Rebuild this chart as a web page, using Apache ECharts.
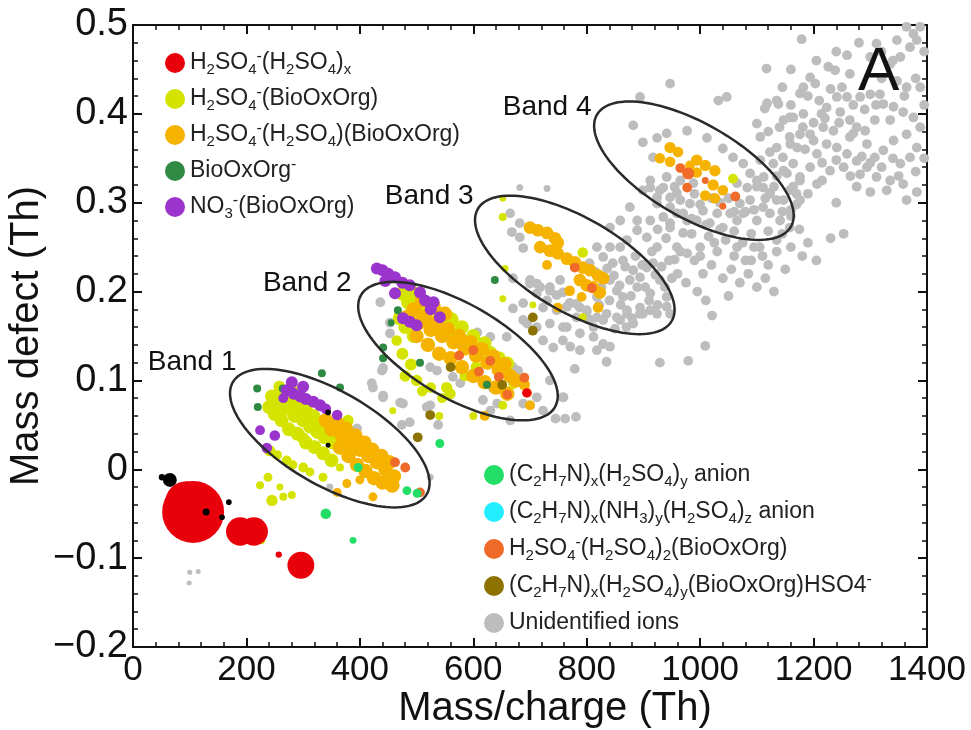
<!DOCTYPE html>
<html><head><meta charset="utf-8">
<script src="https://cdn.jsdelivr.net/npm/echarts@6/dist/echarts.min.js"></script>
<style>html,body{margin:0;padding:0;background:#fff}#c{width:971px;height:730px}</style>
</head><body><div id="c"></div>
<script>
// ---------- data: [m/z (Th), mass defect (Th), relative signal] ----------
const unidentified = [
[100,-0.116,1.6],[115,-0.115,1.6],[99,-0.128,1.6],
[441,0.114],[421,0.097],[441,0.083],[471,0.075],[488,0.053],[474,0.050],[524,0.072],[538,0.050],[395,0.046],[524,-0.009,3],[347,-0.020,3],
[436,0.188],[453,0.165],[453,0.153],[439,0.111],[423,0.092],[441,0.081],[476,0.074],[518,0.070],[524,0.115],[536,0.111],[564,0.104],[577,0.097],[607,0.154],[630,0.149],[659,0.149],[670,0.115],[679,0.111],[670,0.097],[635,0.091],[617,0.078],[642,0.074],[688,0.074],[712,0.081],[735,0.100],[758,0.081],[723,0.066],[630,0.066],[665,0.055],[700,0.072],[745,0.057],
[670,0.215],[700,0.209],[712,0.198],[735,0.205],[758,0.199],[688,0.187],[723,0.182],[747,0.179],[770,0.187],[735,0.164],[758,0.160],[782,0.171],[712,0.160],[688,0.168],[758,0.145],[741,0.137],[723,0.145],
[665,0.288],[682,0.277],[668,0.267],[688,0.249],[700,0.213],[718,0.205],[735,0.201],[753,0.213],[730,0.190],[770,0.187],[788,0.182],[800,0.177],[818,0.194],[841,0.213],[853,0.201],[864,0.194],[876,0.213],[889,0.205],[846,0.232],[864,0.235],[882,0.224],[894,0.216],[906,0.227],[829,0.239],[818,0.250],[841,0.250],[859,0.250],[871,0.258],[889,0.269],[906,0.261],[924,0.250],[917,0.232],[929,0.213],[941,0.194],[912,0.198],[894,0.182],[871,0.175],[853,0.171],[829,0.168],[806,0.168],[682,0.261],[712,0.209],[747,0.196],[899,0.175],[924,0.175],[947,0.175],[670,0.181],[695,0.164],
[805,0.232],[815,0.222],[826,0.205],[836,0.226],[848,0.218],[858,0.207],[868,0.228],[878,0.195],[886,0.240],[898,0.230],[903,0.205],[915,0.245],[921,0.219],[932,0.228],[938,0.205],[950,0.215],[955,0.236],[860,0.185],[880,0.170],[910,0.190],[925,0.185],[840,0.190],[822,0.185],[812,0.160],[850,0.158],[870,0.160],
[912,0.317],[929,0.314],[947,0.306],[965,0.303],[924,0.299],[959,0.288],[977,0.280],[947,0.272],[970,0.266],[959,0.250],[977,0.243],[935,0.284],[682,0.317,3],[730,0.316,3],
[882,0.387],[899,0.368],[924,0.373],[917,0.351],[941,0.378],[977,0.381],[1012,0.373],[1040,0.361],[1058,0.351],[1076,0.344],[1088,0.333],[1100,0.325],[1111,0.317],[1123,0.311],[1135,0.303],[1111,0.295],[1088,0.303],[1070,0.299],[1053,0.288],[1030,0.288],[1005,0.291],[982,0.299],[959,0.311],[935,0.317],[912,0.325],[899,0.314],[924,0.306],[947,0.295],[970,0.288],[994,0.280],[1017,0.277],[1040,0.272],[1065,0.280],[1076,0.288],[1100,0.280],[1123,0.288],[1141,0.280],[1158,0.272],[941,0.329],[965,0.325],[988,0.322],[1065,0.322],[1083,0.317],[876,0.295],[859,0.280],[841,0.272],[889,0.280],[912,0.280],[947,0.277],
[955,0.318],[990,0.310],[1000,0.298],[1020,0.305],[1035,0.300],[1050,0.305],[1060,0.290],[1080,0.290],[1095,0.292],[1115,0.305],[1130,0.318],[1145,0.290],[1160,0.285],[1170,0.298],[1120,0.268],[1135,0.258],[1090,0.265],[1060,0.268],[1035,0.270],[1010,0.275],[985,0.282],[1000,0.240],[1025,0.255],[1065,0.250],[1095,0.250],[1110,0.240],[1080,0.235],[940,0.260],[925,0.270],
[947,0.434],[894,0.419],[1032,0.415],[1047,0.419],[1118,0.412],[1135,0.415],[1158,0.396],[1176,0.423],[1181,0.385],[1158,0.374],[1171,0.362],[1146,0.351],[1164,0.344],[1153,0.333],[1176,0.325],[1158,0.314],[1176,0.303],[1100,0.389],
[1179,0.484],[1117,0.451],[1138,0.411],[1114,0.406],[1106,0.374],[1123,0.357],[1147,0.393],[1164,0.396],[1182,0.400],[1194,0.441],[1182,0.430],[1203,0.434],[1226,0.453],[1238,0.449],[1259,0.466],[1264,0.445],[1259,0.419],[1241,0.419],[1223,0.407],[1214,0.400],[1247,0.402],[1264,0.393],[1276,0.385],[1291,0.381],[1308,0.393],[1323,0.411],[1341,0.408],[1358,0.402],[1376,0.396],[1388,0.385],[1364,0.377],[1341,0.370],[1323,0.359],[1308,0.351],[1294,0.340],[1276,0.347],[1259,0.355],[1241,0.362],[1223,0.366],[1206,0.355],[1194,0.340],[1176,0.329],[1164,0.318],[1147,0.336],[1129,0.344],[1112,0.329],[1100,0.318],[1123,0.310],[1147,0.303],[1170,0.310],[1206,0.321],[1229,0.336],[1253,0.340],[1282,0.332],[1311,0.329],[1335,0.325],[1358,0.321],[1329,0.314],[1364,0.303],[1382,0.312],[1353,0.344],[1370,0.351],[1382,0.362],[1388,0.430],[1364,0.430],[1347,0.437],[1335,0.456],[1353,0.464],[1370,0.475],[1382,0.483],[1376,0.490],[1364,0.498],[1388,0.498],[1347,0.483],[1311,0.479],[1300,0.464],[1282,0.419],[1300,0.422],[1317,0.422],[1335,0.393],[1294,0.366],[1264,0.374],[1235,0.381],[1217,0.385],[1194,0.377],[1176,0.377],[1159,0.366],[1135,0.362],[1106,0.348],[1253,0.265],[1276,0.318],
[1190,0.420],[1210,0.415],[1230,0.428],[1250,0.430],[1270,0.410],[1290,0.405],[1310,0.410],[1200,0.390],[1220,0.395],[1245,0.390],[1270,0.378],[1285,0.352],[1300,0.345],[1320,0.340],[1340,0.350],[1200,0.370],[1185,0.360],[1215,0.345],[1240,0.348],[1265,0.330],[1215,0.325],[1190,0.310],[1160,0.292],[1135,0.330],[1120,0.380],[1140,0.385],[1160,0.410],[1145,0.430],[1160,0.450],[1205,0.460],[1240,0.470],[1280,0.480],[1320,0.470],[1340,0.460],[1320,0.440],[1360,0.420],[1380,0.440],[1395,0.410],[1395,0.470],[1395,0.350],[1380,0.335],[1350,0.330],[1300,0.312],[1240,0.300],
[985,0.265],[1000,0.250],[1015,0.262],[1030,0.245],[1045,0.258],[1060,0.240],[1075,0.255],[1090,0.235],[1105,0.250],[1120,0.230],[1135,0.245],[1150,0.225],[990,0.235],[1005,0.220],[1020,0.230],[1040,0.215],[1055,0.225],[1070,0.210],[1085,0.220],[1100,0.205],[1115,0.215],[1130,0.200],[975,0.210],[995,0.200],[1010,0.190],[1050,0.195],[960,0.220],[945,0.235],[965,0.245],[1145,0.265],[1160,0.250],[1175,0.270],[1190,0.255],[1180,0.240],[1205,0.235],[1230,0.260],
[765,0.183],[782,0.186],[800,0.179],[818,0.171],[835,0.175],[765,0.160],[788,0.153],[812,0.149],[829,0.141],[841,0.138],[771,0.138],[788,0.134],[818,0.134],[835,0.121],[779,0.113],[759,0.081],[762,0.057],[781,0.059],[929,0.120],[979,0.122],[1009,0.139],[1021,0.173],[871,0.179],[894,0.175],[882,0.164],[912,0.179],[941,0.183],[859,0.168]
];
const bisulfateClusters = [[95,-0.038,120],[106,-0.048,240],[189,-0.070,50],[213,-0.070,50],[296,-0.108,45],[257,-0.096,2.5],[694,0.086,5]];
const sulfuricBioOxOrg = [
[245,0.082],[255,0.075],[262,0.086],[270,0.068],[278,0.079],[285,0.060],[292,0.072],[300,0.055],[305,0.066],[312,0.048],[318,0.060],[325,0.042],[332,0.053],[338,0.036],[345,0.047],[352,0.030],[358,0.041],[365,0.024],[372,0.035],[380,0.020],[388,0.028],[250,0.062],[262,0.055],[275,0.045],[290,0.040],[305,0.030],[320,0.025],[335,0.018],[350,0.010],[240,0.070],[258,0.093,9],[280,0.088],[300,0.080,10],[300,0.035,9],[241,0.021,8],
[254,0.016,6],[271,0.010,6],[282,0.005,5],[300,0.002,6],[312,-0.003,5],[335,-0.009,5],[259,-0.020,3],[245,-0.035,8],[265,-0.031,4],[280,-0.029,4],[224,-0.018,4],[238,-0.009,5],[226,-0.080,4],[379,0.055,8],[458,0.066,3],[365,0.002,4],
[476,0.198,14],[490,0.200,14],[485,0.188],[500,0.180],[505,0.192],[515,0.172],[520,0.184],[530,0.165],[540,0.175],[550,0.158],[560,0.168,16],[570,0.150,16],[580,0.160],[590,0.143],[600,0.150],[610,0.135],[620,0.142],[630,0.131],[645,0.125],[660,0.119],[470,0.170],[480,0.160],[495,0.150],[475,0.130,9],[490,0.118,9],[480,0.105,8],[500,0.100,8],[510,0.088,7],[525,0.092,7],[545,0.080,6],[553,0.092,8],[559,0.085,8],[652,0.072,5],[620,0.100,6],[605,0.115,8],[585,0.105,7],[465,0.145,7],[540,0.060,4],[600,0.060,4],[670,0.095,5],
[793,0.244,7],[652,0.305,3],[652,0.284,4],[656,0.226,3],[652,0.192,3],[793,0.171,4],[705,0.185,3],[1058,0.327,6]
];
const sulfuricDimerBioOxOrg = [
[340,0.055],[350,0.045],[360,0.052],[368,0.038],[375,0.046],[385,0.030],[392,0.038],[400,0.022],[408,0.030],[415,0.015],[422,0.022],[430,0.008],[438,0.015],[445,0.000],[452,0.008],[460,-0.008],[365,0.025],[380,0.015],[395,0.005],[410,-0.002],[425,-0.010],[440,-0.015],[457,-0.018,14],[377,-0.016,5],[400,-0.012,5],[360,-0.026,5],[423,-0.031,5],
[485,0.172],[495,0.180],[505,0.165],[515,0.172],[525,0.157],[535,0.165],[545,0.150],[555,0.158],[565,0.143],[575,0.150],[585,0.136],[595,0.143],[605,0.128],[615,0.135],[625,0.120],[635,0.127],[645,0.112],[655,0.118],[665,0.105],[675,0.100],[500,0.150],[520,0.140],[540,0.130],[560,0.125],[580,0.115],[600,0.105],[620,0.098],[640,0.092],[660,0.085],[510,0.190],[530,0.183],[550,0.175],[700,0.072,6],[620,0.060,6],[690,0.095,8],
[700,0.272,10],[714,0.269,10],[730,0.266,10],[744,0.260,10],[749,0.255,10],[718,0.250,10],[735,0.246,10],[749,0.243,10],[765,0.237,10],[779,0.233,10],[793,0.227,10],[806,0.224,10],[820,0.218,10],[829,0.215,10],[788,0.213,10],[800,0.207,10],[811,0.205,10],[823,0.199,10],[730,0.230,6],[820,0.182,7],[749,0.182,6],[770,0.201,7],[791,0.194,6],
[947,0.362,8],[961,0.357,7],[929,0.350,7],[947,0.346,7],[994,0.348,8],[1009,0.342,8],[1026,0.336,8],[994,0.334,7],[1023,0.320,8],[1040,0.314,7],[1009,0.308,7],[1026,0.305,7],[982,0.342,6]
];
const bioOxOrgAnion = [[219,0.091],[220,0.070],[264,0.091],[333,0.108],[365,0.092],[467,0.179],[441,0.137],[441,0.125],[506,0.120],[638,0.213],[624,0.095],[455,0.165,3]];
const nitrateBioOxOrg = [
[271,0.089],[283,0.085],[295,0.082],[305,0.079],[318,0.076],[330,0.072],[280,0.098],[300,0.093],[265,0.080,6],[224,0.044,6],[250,0.038,7],[236,0.024,7],[360,0.061,7],[340,0.068,7],
[430,0.226],[440,0.224],[450,0.220],[462,0.216],[475,0.210],[488,0.207],[462,0.198],[506,0.199],[515,0.190],[525,0.180],[541,0.171],[530,0.188],[476,0.170],[488,0.166],[500,0.162],[445,0.212]
];
const amineSulfuric = [[397,0.002],[483,-0.024],[501,-0.027],[541,0.029],[340,-0.050,7],[388,-0.080,3]];
const amineAmmoniaSulfuric = [];
const sulfuricTrimerBioOxOrg = [[462,0.008],[480,0.002],[506,-0.026],[600,0.134],[610,0.110],[645,0.104],[660,0.084],[695,0.086],[690,0.103],[630,0.122],[575,0.128],[779,0.227],[809,0.204],[965,0.339],[979,0.333,9],[977,0.317],[1062,0.307],[1009,0.325,3],[1040,0.296,3]];
const amineBioOxOrgBisulfate = [[502,0.036],[524,0.061],[651,0.095],[705,0.171],[705,0.156],[560,0.115]];
const otherIons = [[65,-0.012,12],[51,-0.009,2.5],[169,-0.037,2],[129,-0.048,3],[157,-0.054,2],[344,0.064,2],[344,0.027,1.5]];

// band annotations: centre, end of major semi-axis, label anchor (data units)
const bandCentres = [[347,0.035],[573,0.133],[779,0.230],[989,0.336]];
const bandAxisEnds = [[518,-0.028],[744,0.070],[950,0.167],[1160,0.273]];
const bandLabelAnchors = [[26,0.120],[229,0.209],[444,0.307],[652,0.407]];
const bandLabels = ['Band 1','Band 2','Band 3','Band 4'];

const xRange = [0,1400], xStep = 200;
const yRange = [-0.2,0.5], yStep = 0.1;

// ---------- chart ----------
const MINOR_RATIO = 0.42;
const FONT = '"Liberation Sans", Arial, Helvetica, sans-serif';
const richNames = {
 'H2SO4-(H2SO4)x':'H{b|2}SO{b|4}{p|-}(H{b|2}SO{b|4}){b|x}',
 'H2SO4-(BioOxOrg)':'H{b|2}SO{b|4}{p|-}(BioOxOrg)',
 'H2SO4-(H2SO4)(BioOxOrg)':'H{b|2}SO{b|4}{p|-}(H{b|2}SO{b|4})(BioOxOrg)',
 'BioOxOrg-':'BioOxOrg{p|-}',
 'NO3-(BioOxOrg)':'NO{b|3}{p|-}(BioOxOrg)',
 '(C2H7N)x(H2SO4)y anion':'(C{b|2}H{b|7}N){b|x}(H{b|2}SO{b|4}){b|y} anion',
 '(C2H7N)x(NH3)y(H2SO4)z anion':'(C{b|2}H{b|7}N){b|x}(NH{b|3}){b|y}(H{b|2}SO{b|4}){b|z} anion',
 'H2SO4-(H2SO4)2(BioOxOrg)':'H{b|2}SO{b|4}{p|-}(H{b|2}SO{b|4}){b|2}(BioOxOrg)',
 '(C2H7N)x(H2SO4)y(BioOxOrg)HSO4-':'(C{b|2}H{b|7}N){b|x}(H{b|2}SO{b|4}){b|y}(BioOxOrg)HSO4{p|-}',
 'Unidentified ions':'Unidentified ions'
};
const legend1 = ['H2SO4-(H2SO4)x','H2SO4-(BioOxOrg)','H2SO4-(H2SO4)(BioOxOrg)','BioOxOrg-','NO3-(BioOxOrg)'];
const legend2 = ['(C2H7N)x(H2SO4)y anion','(C2H7N)x(NH3)y(H2SO4)z anion','H2SO4-(H2SO4)2(BioOxOrg)','(C2H7N)x(H2SO4)y(BioOxOrg)HSO4-','Unidentified ions'];

function scatter(name, data, color, defSignal, z){
  return {name, type:'scatter', data, z: z||2,
    symbolSize: d => 4*Math.sqrt(d[2] != null ? d[2] : defSignal),
    itemStyle:{color, opacity:1}, emphasis:{disabled:true}, silent:true};
}
const legendText = {fontFamily:FONT, fontSize:23, color:'#222', lineHeight:28,
  rich:{b:{fontFamily:FONT,fontSize:15,lineHeight:15,verticalAlign:'bottom',color:'#222'},
        p:{fontFamily:FONT,fontSize:16,lineHeight:14,verticalAlign:'top',color:'#222'}}};

const bandData = bandCentres.map((c,i)=>[c[0],c[1],bandAxisEnds[i][0],bandAxisEnds[i][1],bandLabelAnchors[i][0],bandLabelAnchors[i][1]]);

const axisLineStyle = {color:'#111', width:2};
const axisLineCfg = {show:true, onZero:false, lineStyle:axisLineStyle};
const minorStyle = {show:true, splitNumber:5, length:5, lineStyle:{color:'#111', width:1.5}};
const chart = echarts.init(document.getElementById('c'), null, {renderer:'canvas'});
chart.setOption({
 animation:false,
 backgroundColor:'#fff',
 grid:{left:133, right:44, top:25, bottom:83, containLabel:false, outerBoundsMode:'none'},
 xAxis:[{type:'value', min:xRange[0], max:xRange[1], interval:xStep,
   name:'Mass/charge (Th)', nameLocation:'middle', nameGap:42, nameMoveOverlap:false,
   nameTextStyle:{fontFamily:FONT, fontSize:40, color:'#111', padding:[0,0,0,50]},
   axisLine:axisLineCfg, axisTick:{inside:true, length:9, lineStyle:axisLineStyle},
   minorTick:minorStyle, splitLine:{show:false},
   axisLabel:{fontFamily:FONT, fontSize:35, color:'#111', margin:6, showMinLabel:true, showMaxLabel:true, hideOverlap:false,
     formatter: v => String(v)}},
  {type:'value', position:'top', min:xRange[0], max:xRange[1], interval:xStep,
   axisLine:axisLineCfg, axisTick:{inside:true, length:9, lineStyle:axisLineStyle},
   minorTick:minorStyle, splitLine:{show:false}, axisLabel:{show:false}}],
 yAxis:[{type:'value', min:yRange[0], max:yRange[1], interval:yStep,
   name:'Mass defect (Th)', nameLocation:'middle', nameGap:86, nameMoveOverlap:false,
   nameTextStyle:{fontFamily:FONT, fontSize:40, color:'#111'},
   axisLine:axisLineCfg, axisTick:{inside:true, length:9, lineStyle:axisLineStyle},
   minorTick:minorStyle, splitLine:{show:false},
   axisLabel:{fontFamily:FONT, fontSize:38, color:'#111', margin:5, showMinLabel:true, showMaxLabel:true, hideOverlap:false,
     formatter: v => Math.abs(v) < 1e-9 ? '0' : (v < 0 ? '\u2212' : '') + Math.abs(v).toFixed(1)}},
  {type:'value', position:'right', min:yRange[0], max:yRange[1], interval:yStep,
   axisLine:axisLineCfg, axisTick:{inside:true, length:9, lineStyle:axisLineStyle},
   minorTick:minorStyle, splitLine:{show:false}, axisLabel:{show:false}}],
 legend:[
  {data:legend1, orient:'vertical', left:160, top:44, icon:'circle', itemWidth:20, itemHeight:20, itemGap:8, itemTextGap:21,
   selectedMode:false, textStyle:legendText, formatter:n=>richNames[n]},
  {data:legend2, orient:'vertical', left:479, top:456, icon:'circle', itemWidth:20, itemHeight:20, itemGap:9, itemTextGap:26,
   selectedMode:false, textStyle:legendText, formatter:n=>richNames[n]}
 ],
 graphic:[{type:'text', left:858, top:42, z:100, style:{text:'A', fontFamily:FONT, fontSize:62, fill:'#111'}}],
 series:[
  scatter('Unidentified ions', unidentified, '#bdbdbd', 6, 1),
  scatter('H2SO4-(BioOxOrg)', sulfuricBioOxOrg, '#d4e400', 12, 2),
  scatter('H2SO4-(H2SO4)(BioOxOrg)', sulfuricDimerBioOxOrg, '#f5b300', 13, 3),
  scatter('H2SO4-(H2SO4)2(BioOxOrg)', sulfuricTrimerBioOxOrg, '#f06a2a', 6, 4),
  scatter('BioOxOrg-', bioOxOrgAnion, '#2f8a44', 4, 4),
  scatter('NO3-(BioOxOrg)', nitrateBioOxOrg, '#9a34cc', 9, 4),
  scatter('(C2H7N)x(H2SO4)y anion', amineSulfuric, '#22dd66', 5, 4),
  scatter('(C2H7N)x(NH3)y(H2SO4)z anion', amineAmmoniaSulfuric, '#22eeff', 5, 4),
  scatter('(C2H7N)x(H2SO4)y(BioOxOrg)HSO4-', amineBioOxOrgBisulfate, '#8c7200', 6, 4),
  scatter('H2SO4-(H2SO4)x', bisulfateClusters, '#e8000a', 10, 5),
  scatter('other', otherIons, '#000000', 2, 6),
  {type:'custom', name:'bands', data:bandData, z:10, silent:true, clip:false,
   encode:{x:[0,2,4], y:[1,3,5]},
   renderItem:(params, api)=>{
     const c = api.coord([api.value(0), api.value(1)]);
     const e = api.coord([api.value(2), api.value(3)]);
     const dx = e[0]-c[0], dy = e[1]-c[1];
     const a = Math.hypot(dx,dy), ang = Math.atan2(dy,dx), b = a*MINOR_RATIO;
     const pts = [];
     for (let i=0;i<120;i++){
       const t = i/120*2*Math.PI, x = a*Math.cos(t), y = b*Math.sin(t);
       pts.push([c[0]+x*Math.cos(ang)-y*Math.sin(ang), c[1]+x*Math.sin(ang)+y*Math.cos(ang)]);
     }
     const l = api.coord([api.value(4), api.value(5)]);
     return {type:'group', children:[
       {type:'polygon', shape:{points:pts}, style:{fill:'none', stroke:'#2a2a2a', lineWidth:2.5}},
       {type:'text', x:l[0], y:l[1], style:{text:bandLabels[params.dataIndex], fontFamily:FONT, fontSize:28, fill:'#111', textAlign:'left', textVerticalAlign:'middle'}}
     ]};
   }}
 ]
});
</script></body></html>
